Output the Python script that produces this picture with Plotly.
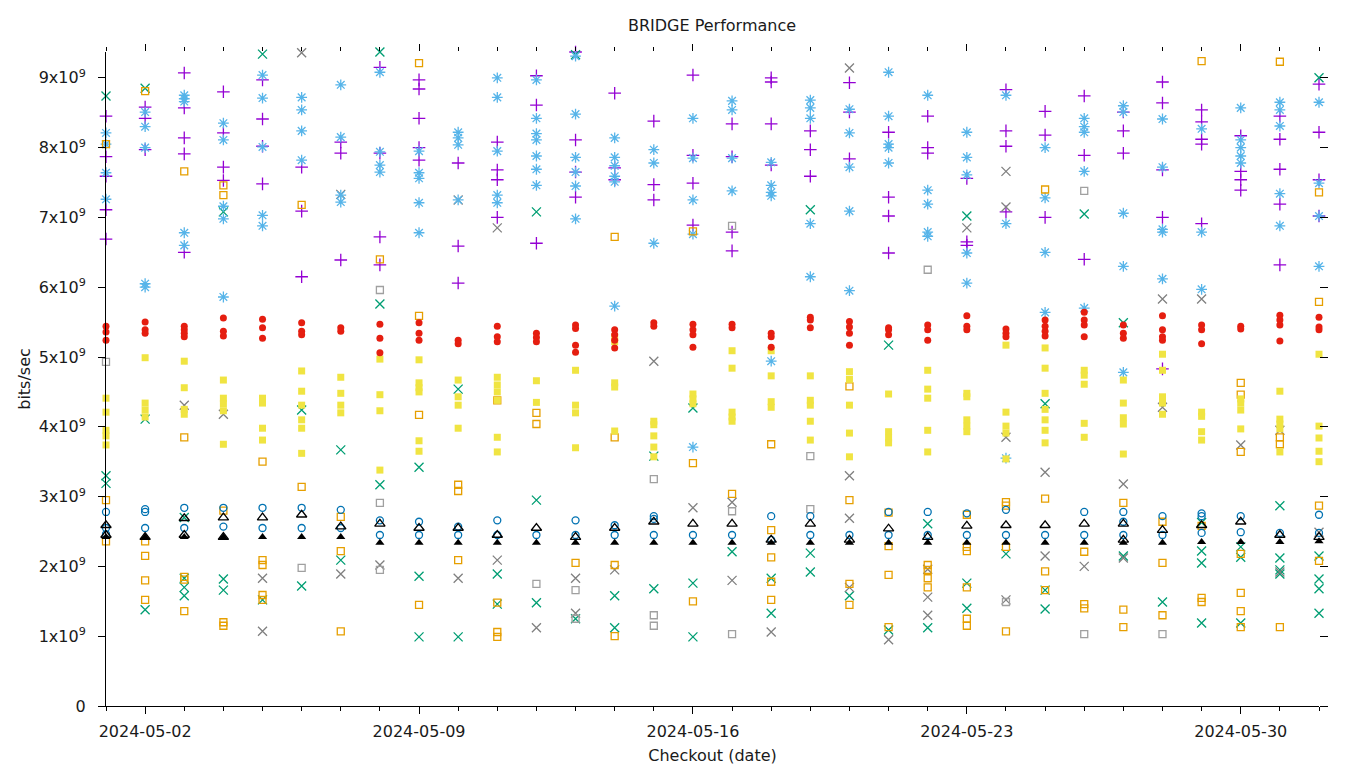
import pandas as pd
import plotly.graph_objects as go

dates = pd.date_range("2024-05-01", periods=32, freq="D").strftime("%Y-%m-%d").tolist()

# values in units of 1e9 bits/sec, one inner list per day (2024-05-01 .. 2024-06-01)
purple_plus = [
    [8.45, 7.87, 7.59, 7.11, 6.69], [8.58, 8.42, 7.97], [9.07, 8.57, 8.14, 7.91, 6.50],
    [8.80, 8.21, 7.72, 7.53], [8.97, 8.41, 8.02, 7.48], [7.72, 7.09, 6.15], [8.08, 7.92, 6.39],
    [9.15, 7.92, 6.72, 6.32], [8.97, 8.84, 8.42, 8.00, 7.82], [7.78, 6.59, 6.06],
    [8.08, 7.68, 7.54, 7.00], [9.03, 8.61, 6.63], [9.37, 8.11, 7.65, 7.29], [8.78, 7.71, 7.54],
    [8.38, 7.47, 7.25], [9.04, 7.89, 7.49, 6.89], [8.34, 7.87, 6.79, 6.52], [9.00, 8.94, 8.34, 7.75],
    [8.24, 7.97, 7.59], [8.93, 8.51, 7.84], [8.22, 7.29, 7.02, 6.49], [8.45, 8.00, 7.92],
    [7.56, 6.65, 6.60], [8.83, 8.24, 8.02, 7.08], [8.52, 8.18, 7.00], [8.74, 7.89, 6.40],
    [8.51, 8.24, 7.92], [8.94, 8.64, 7.68, 7.00, 4.83], [8.54, 8.37, 8.12, 8.05, 6.91],
    [8.17, 7.66, 7.54, 7.39], [8.45, 8.12, 7.69, 7.19, 6.32], [8.91, 8.22, 7.54, 7.02],
]
green_x = [
    [8.74, 3.30, 3.19], [8.85, 4.11, 1.38], [2.70, 1.83, 1.70, 1.58], [7.08, 1.82, 1.66],
    [9.34, 1.52], [4.24, 1.72], [3.67, 2.09], [9.37, 5.76, 3.17], [3.42, 1.86, 0.99],
    [4.54, 0.99], [1.89, 1.46], [7.08, 2.95, 1.48], [9.33, 1.25], [1.58, 1.12], [3.58, 1.68],
    [4.27, 1.76, 0.99], [2.21], [1.83, 1.33], [7.11, 2.19, 1.92], [1.58], [9.38, 5.17, 1.09],
    [2.61, 1.12], [7.02, 1.76, 1.40], [2.18], [4.33, 1.66, 1.39], [7.05], [5.49, 2.15], [1.49],
    [2.63, 2.22, 2.05, 1.19], [2.28, 2.13, 1.19], [2.87, 2.12, 1.95, 1.89],
    [9.00, 2.15, 1.82, 1.68, 1.33],
]
gray_x = [
    [], [], [4.31], [4.18], [1.83, 1.07], [9.36], [7.33, 1.89], [2.02], [], [7.25, 1.83],
    [6.85, 2.09], [1.12], [1.83, 1.33], [1.95], [4.94], [2.84], [2.92, 1.80], [1.06], [],
    [9.14, 3.30, 2.69, 1.70], [0.95], [1.96, 1.56, 1.30], [6.85], [7.66, 7.15, 3.85, 1.52],
    [3.35, 2.15], [2.00], [3.18, 2.12], [5.83, 4.28], [5.83], [3.74], [3.95, 1.92], [2.49],
]
lightblue_star = [
    [8.21, 8.05, 7.64, 7.26], [8.51, 8.30, 8.00, 6.05, 6.00], [8.75, 8.70, 8.66, 6.78, 6.60],
    [8.35, 8.11, 7.16, 6.98, 5.86], [9.04, 8.71, 8.01, 7.03, 6.88], [8.72, 8.54, 8.24, 7.82],
    [8.90, 8.15, 7.32, 7.22], [9.08, 7.94, 7.75, 7.65], [7.95, 7.64, 7.56, 7.21, 6.78],
    [8.22, 8.14, 8.04, 7.25], [9.00, 8.72, 7.95, 7.32, 7.21],
    [8.97, 8.42, 8.20, 8.11, 7.88, 7.69, 7.46], [9.31, 8.48, 7.86, 7.65, 7.45, 6.98],
    [8.14, 7.86, 7.74, 7.59, 7.51, 5.73], [7.97, 7.78, 6.63], [8.42, 7.85, 7.25, 6.76, 3.71],
    [8.67, 8.54, 7.85, 7.38], [7.79, 7.46, 7.36, 7.31, 4.94], [8.68, 8.57, 8.42, 6.91, 6.15],
    [8.55, 8.21, 7.72, 7.09, 5.95], [9.08, 8.45, 8.05, 8.00, 7.78], [8.75, 7.39, 7.19, 6.79, 6.73],
    [8.22, 7.86, 7.61, 6.49, 6.06], [8.75, 6.91, 3.55], [8.00, 7.28, 6.50, 5.64],
    [8.42, 8.30, 8.22, 7.66, 5.70], [8.60, 8.51, 7.06, 6.30, 4.78], [8.41, 7.72, 6.83, 6.79, 6.12],
    [8.27, 6.79, 5.97], [8.57, 8.11, 8.00, 7.88, 7.78], [8.65, 8.54, 8.31, 7.34, 6.88],
    [8.65, 7.49, 7.02, 6.30],
]
orange_square = [
    [8.05, 2.95, 2.36], [8.81, 2.36, 2.15, 1.80, 1.52], [7.66, 3.85, 1.85, 1.81, 1.36],
    [7.46, 7.32, 2.80, 1.20, 1.15], [3.50, 2.09, 2.02, 1.59, 1.52], [7.18, 3.14],
    [2.71, 2.22, 1.07], [6.40], [9.21, 5.59, 4.17, 1.45], [3.17, 3.08, 2.09],
    [4.38, 1.48, 1.06, 0.99], [4.20, 4.04], [2.05], [6.72, 3.85, 2.02, 1.00], [],
    [6.80, 3.48, 1.50], [3.04], [3.75, 2.52, 2.13, 1.78, 1.52], [], [4.58, 2.95, 1.75, 1.45],
    [2.77, 2.29, 1.88, 1.13], [2.02, 1.95, 1.83, 1.70], [2.74, 2.28, 2.22, 1.70, 1.25, 1.15],
    [2.92, 2.87, 2.28, 1.07], [7.40, 2.97, 1.93, 1.66], [2.21, 1.46, 1.40], [2.91, 1.38, 1.13],
    [2.64, 2.05, 1.30], [9.24, 2.58, 1.55, 1.49], [4.63, 4.46, 3.64, 2.18, 1.62, 1.36, 1.13],
    [9.23, 3.85, 3.75, 1.13], [7.36, 5.79, 2.87, 2.08],
]
gray_square = [
    [4.93], [], [], [], [], [1.98], [], [5.96, 2.91, 1.95], [], [], [], [1.75], [1.66, 1.25], [],
    [3.25, 1.30, 1.15], [], [6.88, 2.79, 1.03], [], [3.58, 2.82], [], [], [6.25], [], [1.49], [],
    [7.38, 1.03], [], [1.03], [], [], [], [],
]
yellow_square = [
    [4.41, 4.21, 3.95, 3.87, 3.74], [4.99, 4.34, 4.24, 4.14], [4.94, 4.56, 4.25, 4.18],
    [4.67, 4.41, 4.33, 4.23, 3.75], [4.41, 4.34, 3.98, 3.81], [4.80, 4.51, 4.31, 4.10, 3.98, 3.62],
    [4.71, 4.48, 4.31, 4.20], [4.97, 4.46, 4.23, 3.38], [4.96, 4.63, 4.56, 4.50, 3.80, 3.65],
    [4.67, 4.43, 4.31, 3.98], [4.71, 4.60, 4.50, 4.38, 3.85, 3.64], [4.66, 4.35],
    [4.81, 4.31, 4.20, 3.70], [5.29, 5.22, 4.63, 4.57, 3.94], [4.08, 4.03, 3.87, 3.71, 3.57],
    [4.47, 4.40, 4.33], [5.09, 4.84, 4.21, 4.14, 4.08], [5.09, 4.73, 4.36, 4.28],
    [4.73, 4.38, 4.31, 4.08, 3.81], [4.79, 4.68, 4.31, 3.91, 3.57], [4.47, 3.93, 3.84, 3.77],
    [4.81, 4.54, 4.41, 3.95, 3.64], [4.48, 4.43, 4.10, 4.01, 3.93], [5.17, 4.21, 4.01, 3.91, 3.54],
    [5.13, 4.84, 4.48, 4.25, 4.10, 3.95, 3.77], [4.81, 4.74, 4.61, 4.05, 3.85],
    [4.67, 4.34, 4.13, 4.04, 3.61], [5.04, 4.81, 4.43, 4.34, 4.18], [4.21, 4.15, 3.93, 3.81],
    [4.40, 4.34, 4.24, 3.97], [4.51, 4.11, 4.04, 3.97, 3.64], [5.04, 4.01, 3.84, 3.65, 3.50],
]
blue_circle = [
    [2.78, 2.55, 2.46], [2.82, 2.78, 2.55], [2.84, 2.55], [2.84, 2.57], [2.84, 2.55], [2.84, 2.55],
    [2.81, 2.55], [2.66, 2.45], [2.64, 2.45], [2.57, 2.45], [2.66, 2.45], [2.45], [2.66, 2.45],
    [2.59, 2.45], [2.72, 2.68, 2.45], [2.45], [2.45], [2.72, 2.38], [2.72, 2.45], [2.45],
    [2.78, 2.45], [2.78, 2.45], [2.76, 2.45], [2.81, 2.45], [2.45], [2.78, 2.45],
    [2.78, 2.64, 2.45], [2.72, 2.45], [2.76, 2.72, 2.48], [2.72, 2.49], [2.48], [2.74, 2.48],
]
red_circle = [
    [5.44, 5.36, 5.24], [5.50, 5.39, 5.34], [5.44, 5.39, 5.34, 5.29], [5.56, 5.37, 5.30],
    [5.54, 5.42, 5.27], [5.49, 5.37, 5.32], [5.42, 5.37], [5.47, 5.27, 5.06], [5.49, 5.34, 5.24],
    [5.24, 5.19], [5.44, 5.29, 5.22], [5.34, 5.28, 5.22], [5.46, 5.41, 5.17, 5.07],
    [5.39, 5.32, 5.24, 5.13], [5.49, 5.44], [5.47, 5.39, 5.32, 5.14], [5.47, 5.42],
    [5.34, 5.29, 5.14], [5.57, 5.53, 5.42], [5.51, 5.43, 5.34, 5.17], [5.42, 5.39, 5.32],
    [5.46, 5.39, 5.24], [5.59, 5.44, 5.39], [5.40, 5.34, 5.29], [5.53, 5.44, 5.37, 5.30],
    [5.64, 5.53, 5.46, 5.29], [5.46, 5.34, 5.27], [5.59, 5.39, 5.29, 5.24], [5.46, 5.39, 5.19],
    [5.44, 5.40], [5.60, 5.53, 5.46, 5.23], [5.57, 5.43, 5.39],
]
black_triangle = [
    [2.59, 2.45], [2.42], [2.69, 2.45], [2.70, 2.42], [2.70], [2.74], [2.57], [2.61], [2.55],
    [2.55], [2.45], [2.55], [2.42], [2.55], [2.64], [2.61], [2.61], [2.38], [2.61], [2.38],
    [2.54], [2.42], [2.58], [2.59], [2.59], [2.61], [2.61, 2.38], [2.52], [2.59], [2.64],
    [2.45], [2.42],
]
black_triangle_filled = [
    [2.42], [2.42], [2.42], [2.42], [2.42], [2.42], [2.42], [2.34], [2.34], [2.34], [2.34],
    [2.34], [2.34], [2.34], [2.34], [2.34], [2.34], [2.34], [2.34], [2.34], [2.34], [2.34],
    [2.34], [2.34], [2.34], [2.34], [2.34], [2.34], [2.35], [2.35], [2.35], [2.36],
]

y_tick_values = [0, 1e9, 2e9, 3e9, 4e9, 5e9, 6e9, 7e9, 8e9, 9e9]
y_tick_labels = ["0"] + [f"{i}x10<sup>9</sup>" for i in range(1, 10)]

series = [
    ("purple +", purple_plus, "cross-thin-open", 9, "#9400d3", True),
    ("green x", green_x, "x-thin-open", 9, "#009e73", True),
    ("gray x", gray_x, "x-thin-open", 9, "#808080", True),
    ("lightblue *", lightblue_star, "asterisk-open", 9, "#56b4e9", True),
    ("orange sq", orange_square, "square-open", 7, "#e69f00", True),
    ("gray sq", gray_square, "square-open", 7, "#a0a0a0", True),
    ("yellow sq", yellow_square, "square", 7, "#f0e442", False),
    ("blue o", blue_circle, "circle-open", 7, "#0072b2", True),
    ("red o", red_circle, "circle", 7, "#e51e10", False),
    ("black tri", black_triangle, "triangle-up-open", 9, "#000000", True),
    ("black tri filled", black_triangle_filled, "triangle-up", 8, "#000000", False),
]

fig = go.Figure()
for name, per_day, sym, size, color, is_open in series:
    xs, ys = [], []
    for d, vals in zip(dates, per_day):
        for v in vals:
            xs.append(d)
            ys.append(v * 1e9)
    if is_open:
        marker = dict(symbol=sym, size=size, color=color, line=dict(color=color, width=1.3))
    else:
        marker = dict(symbol=sym, size=size, color=color, line=dict(width=0))
    fig.add_trace(go.Scatter(x=xs, y=ys, mode="markers", name=name, marker=marker,
                             cliponaxis=False, showlegend=False))

# dummy trace for mirrored tick axes
fig.add_trace(go.Scatter(x=[dates[0]], y=[0], xaxis="x2", yaxis="y2", mode="markers",
                         marker=dict(opacity=0), showlegend=False, hoverinfo="skip"))

x_range = ["2024-05-01", "2024-06-01"]
y_range = [0, 9.37e9]
font_family = "DejaVu Sans"
txt = "#1a1a1a"
day_ms = 86400000

common_x = dict(type="date", range=x_range, tick0="2024-05-02", dtick=7 * day_ms,
                ticks="outside", ticklen=7, tickwidth=1, tickcolor="black",
                showgrid=False, zeroline=False, automargin=False,
                minor=dict(tick0="2024-05-01", dtick=day_ms, ticks="outside", ticklen=4,
                           tickwidth=1, tickcolor="black", showgrid=False))

# the page body adds an 8px offset; margins compensate for it
fig.update_layout(
    width=1360, height=768,
    margin=dict(l=98, r=49, t=44, b=70, autoexpand=False),
    paper_bgcolor="white", plot_bgcolor="white",
    font=dict(family=font_family, size=16, color=txt),
    title=dict(text="BRIDGE Performance", x=(712 - 8) / 1360, xanchor="center", xref="container",
               yref="container", y=1 - 17 / 768, yanchor="middle",
               font=dict(family=font_family, size=16, color=txt)),
    xaxis=dict(**common_x, tickformat="%Y-%m-%d", showline=True, linecolor="black", linewidth=1,
               ticklabelstandoff=4,
               title=dict(text="Checkout (date)", standoff=9,
                          font=dict(family=font_family, size=16, color=txt)),
               tickfont=dict(family=font_family, size=16, color=txt)),
    xaxis2=dict(**common_x, overlaying="x", side="top", anchor="y", showticklabels=False,
                showline=False),
    yaxis=dict(range=y_range, tickmode="array", tickvals=y_tick_values, ticktext=y_tick_labels,
               ticks="outside", ticklen=7, tickcolor="black", showline=True, linecolor="black",
               linewidth=1, showgrid=False, zeroline=False, automargin=False,
               ticklabelstandoff=9,
               title=dict(text="bits/sec", standoff=4,
                          font=dict(family=font_family, size=16, color=txt)),
               tickfont=dict(family=font_family, size=16, color=txt)),
    yaxis2=dict(range=y_range, overlaying="y", side="right", anchor="x", tickmode="array",
                tickvals=y_tick_values, ticks="outside", ticklen=8, tickcolor="black",
                showticklabels=False, showline=False, showgrid=False, zeroline=False,
                automargin=False),
)

fig.write_html("out.html")
